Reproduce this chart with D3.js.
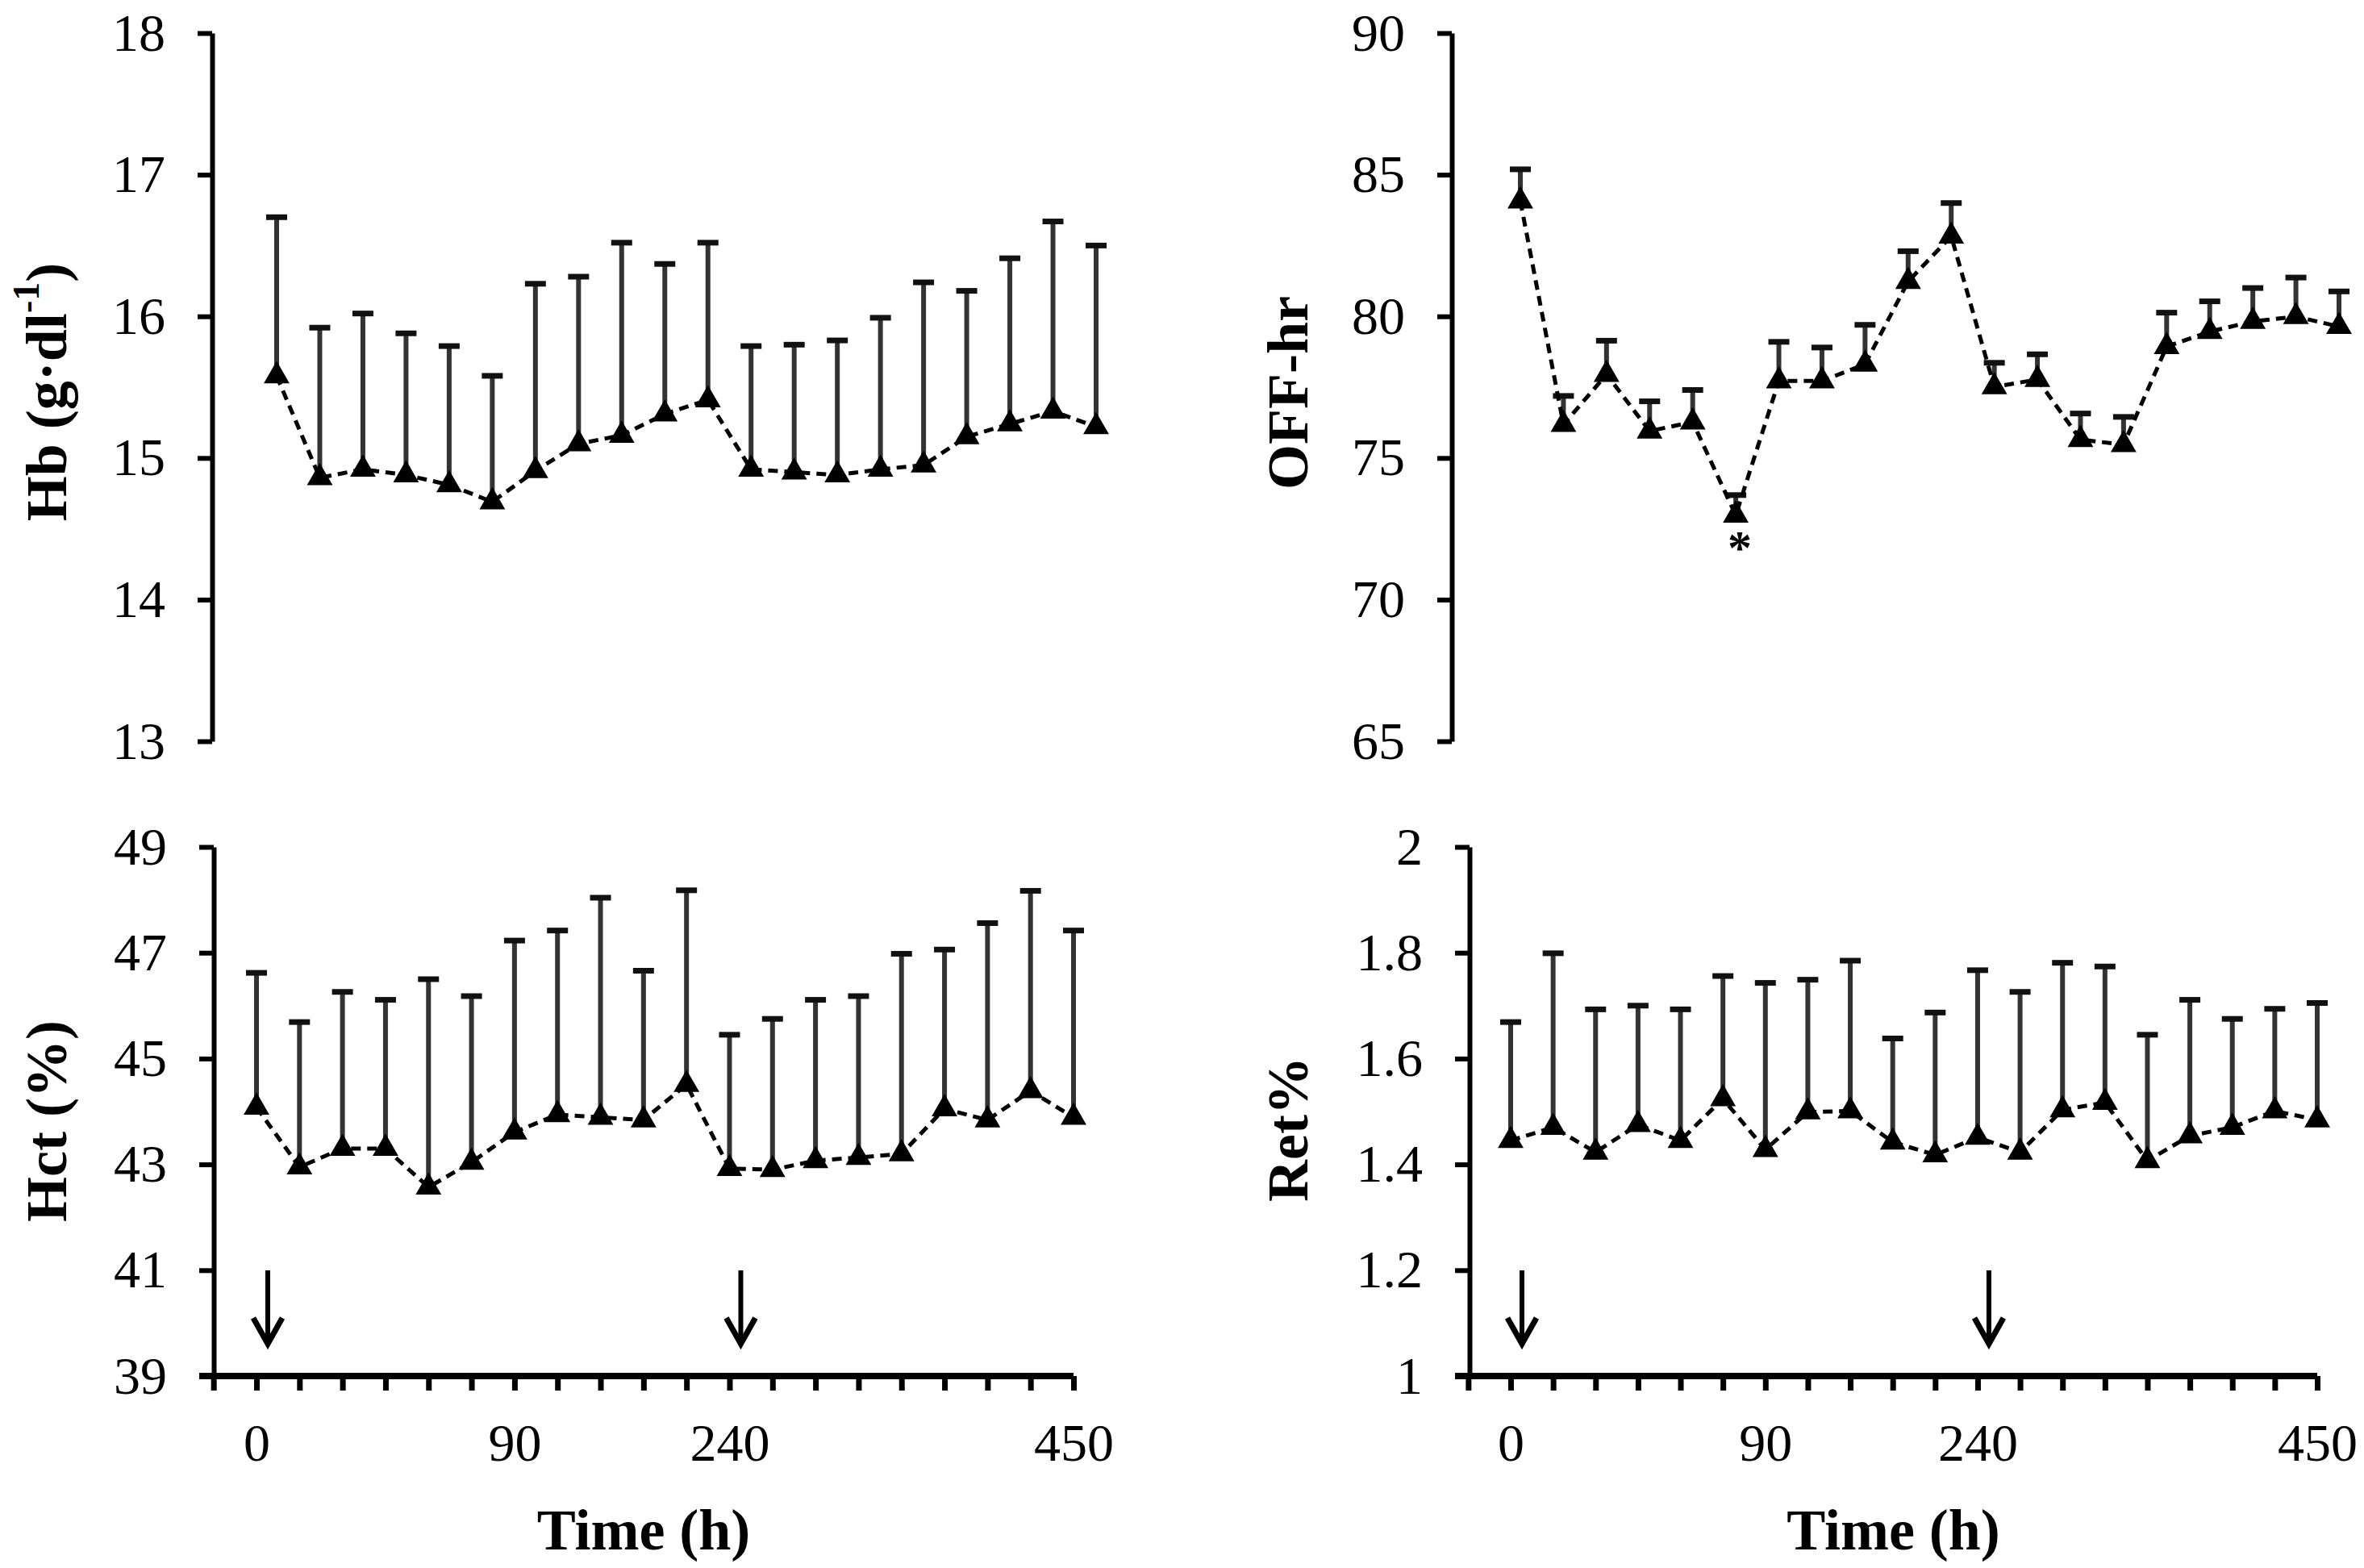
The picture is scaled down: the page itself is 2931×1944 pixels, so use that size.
<!DOCTYPE html>
<html>
<head>
    <meta charset="utf-8">
    <style>
        body { margin: 0; background: #fff; }
        svg { display: block; }
        .tick text { font-family: "Liberation Serif", "Times New Roman", serif; }
        .ttl { font-family: "Liberation Serif", "Times New Roman", serif; font-weight: bold; }
    </style>
    <script src="https://d3js.org/d3.v7.min.js"></script>
</head>
<body>
<script type="application/javascript">
  // x categories (20 sampling times), only some are labelled
  var tickLabels = ["0", "", "", "", "", "", "90", "", "", "", "", "240", "", "", "", "", "", "", "", "450"];
  // injection times (arrows), as category index
  var arrowAt = [0, 11];

  // Hb (g/dl)
  var hbMean = [15.58, 14.86, 14.92, 14.88, 14.81, 14.69, 14.91, 15.10, 15.16, 15.31,
                15.41, 14.92, 14.90, 14.88, 14.92, 14.95, 15.15, 15.24, 15.33, 15.22];
  var hbSD = [1.12, 1.06, 1.10, 1.00, 0.98, 0.89, 1.32, 1.18, 1.36, 1.06,
              1.11, 0.87, 0.90, 0.95, 1.07, 1.29, 1.03, 1.17, 1.34, 1.28];

  // OFF-hr
  var offMean = [84.07, 76.18, 77.95, 75.95, 76.27, 72.98, 77.72, 77.72, 78.31, 81.23,
                 82.83, 77.51, 77.77, 75.65, 75.47, 78.93, 79.46, 79.82, 79.99, 79.64];
  var offSD = [1.12, 1.01, 1.19, 1.05, 1.13, 0.71, 1.38, 1.18, 1.39, 1.07,
               1.17, 0.85, 0.89, 0.92, 0.98, 1.20, 1.07, 1.18, 1.38, 1.24];
  var offStar = [5]; // significant point

  // Hct (%)
  var hctMean = [44.08, 42.95, 43.30, 43.30, 42.57, 43.04, 43.61, 43.94, 43.89, 43.84,
                 44.51, 42.92, 42.90, 43.07, 43.13, 43.20, 44.05, 43.84, 44.39, 43.89];
  var hctSD = [2.54, 2.74, 2.96, 2.81, 3.93, 3.14, 3.62, 3.48, 4.15, 2.82,
               3.67, 2.53, 2.85, 3.04, 3.05, 3.78, 3.01, 3.72, 3.78, 3.53];

  // Ret%
  var retMean = [1.445, 1.470, 1.423, 1.475, 1.445, 1.524, 1.428, 1.499, 1.501, 1.442,
                 1.418, 1.451, 1.423, 1.503, 1.517, 1.407, 1.454, 1.470, 1.501, 1.484];
  var retSD = [0.224, 0.329, 0.270, 0.225, 0.248, 0.232, 0.315, 0.250, 0.284, 0.196,
               0.269, 0.316, 0.303, 0.278, 0.257, 0.238, 0.257, 0.205, 0.193, 0.221];

  var W = 2931, H = 1944;
  var svg = d3.select("body").append("svg")
              .attr("width", W)
              .attr("height", H);

  var panels = [
    {mean: hbMean, sd: hbSD, dom: [13, 18], step: 1, fmt: d3.format("d"),
     axisX: 263, x0: 343, x1: 1359, yTop: 41, yBot: 919, xAxis: false,
     title: ["Hb (g·dl", "-1", ")"], titleX: 58, titleY: 486},
    {mean: offMean, sd: offSD, dom: [65, 90], step: 5, fmt: d3.format("d"),
     axisX: 1800, x0: 1885, x1: 2900, yTop: 41, yBot: 919, xAxis: false, star: offStar,
     title: ["OFF-hr"], titleX: 1597, titleY: 487},
    {mean: hctMean, sd: hctSD, dom: [39, 49], step: 2, fmt: d3.format("d"),
     axisX: 265, x0: 318, x1: 1331, yTop: 1050, yBot: 1706, xAxis: true,
     title: ["Hct (%)"], titleX: 58, titleY: 1390},
    {mean: retMean, sd: retSD, dom: [1, 2], step: 0.2, fmt: function (d) { return +d.toFixed(1) + ""; },
     axisX: 1822, x0: 1873, x1: 2873, yTop: 1050, yBot: 1706, xAxis: true,
     title: ["Ret%"], titleX: 1597, titleY: 1400}
  ];

  var tri = d3.symbol().type(d3.symbolTriangle).size(440);

  panels.forEach(function (p) {
    var n = p.mean.length;
    var x = d3.scaleLinear().domain([0, n - 1]).range([p.x0, p.x1]);
    var y = d3.scaleLinear().domain(p.dom).range([p.yBot, p.yTop]);
    var g = svg.append("g");

    // y axis
    var yTicks = d3.range(p.dom[0], p.dom[1] + p.step / 2, p.step);
    var ya = g.append("g")
              .attr("transform", "translate(" + p.axisX + ",0)")
              .call(d3.axisLeft(y).tickValues(yTicks).tickFormat(p.fmt)
                      .tickSize(18).tickPadding(40).tickSizeOuter(0));
    ya.select(".domain").attr("stroke", "#000").attr("stroke-width", 6);
    ya.selectAll(".tick line").attr("stroke", "#000").attr("stroke-width", 6);
    ya.selectAll(".tick text").attr("font-size", 66).attr("fill", "#000");

    // x axis (bottom panels only)
    if (p.xAxis) {
      var gap = (p.x1 - p.x0) / (n - 1);
      var xa = d3.scaleLinear().domain([-1, n - 1]).range([p.x0 - gap, p.x1]);
      var xg = g.append("g")
                .attr("transform", "translate(0," + p.yBot + ")")
                .call(d3.axisBottom(xa).tickValues(d3.range(-1, n))
                        .tickFormat(function (d) { return d < 0 ? "" : tickLabels[d]; })
                        .tickSize(18).tickPadding(40).tickSizeOuter(0));
      xg.select(".domain").attr("stroke", "#000").attr("stroke-width", 8)
        .attr("d", "M" + (p.axisX - 18) + ",0H" + p.x1);
      xg.selectAll(".tick line").attr("stroke", "#000").attr("stroke-width", 7);
      xg.selectAll(".tick text").attr("font-size", 66).attr("fill", "#000");

      g.append("text").attr("class", "ttl")
       .attr("x", (p.axisX + p.x1) / 2).attr("y", 1897)
       .attr("text-anchor", "middle").attr("dominant-baseline", "central")
       .attr("font-size", 72).text("Time (h)");

      // arrows marking the doses
      arrowAt.forEach(function (i) {
        var ax = x(i) + 14, top = p.yBot - 131, tip = p.yBot - 40;
        g.append("path")
         .attr("d", "M" + ax + "," + top + "V" + (tip - 3))
         .attr("stroke", "#000").attr("stroke-width", 6).attr("fill", "none");
        g.append("path")
         .attr("d", "M" + (ax - 18) + "," + (tip - 32) + "L" + ax + "," + tip + "L" + (ax + 18) + "," + (tip - 32))
         .attr("stroke", "#000").attr("stroke-width", 7).attr("fill", "none");
      });
    }

    // y axis title
    var t = g.append("text").attr("class", "ttl")
             .attr("transform", "translate(" + p.titleX + "," + p.titleY + ") rotate(-90)")
             .attr("text-anchor", "middle").attr("dominant-baseline", "central")
             .attr("font-size", 72);
    t.append("tspan").text(p.title[0]);
    if (p.title.length > 1) {
      t.append("tspan").attr("font-size", 46).attr("dy", -26).text(p.title[1]);
      t.append("tspan").attr("dy", 26).text(p.title[2]);
    }

    // upper error bars
    var eb = g.append("g").attr("stroke", "#333");
    eb.selectAll(".bar").data(p.mean).enter().append("line")
      .attr("x1", function (d, i) { return x(i); })
      .attr("x2", function (d, i) { return x(i); })
      .attr("y1", function (d) { return y(d); })
      .attr("y2", function (d, i) { return y(d + p.sd[i]); })
      .attr("stroke-width", 6);
    eb.selectAll(".cap").data(p.mean).enter().append("line")
      .attr("x1", function (d, i) { return x(i) - 13; })
      .attr("x2", function (d, i) { return x(i) + 13; })
      .attr("y1", function (d, i) { return y(d + p.sd[i]); })
      .attr("y2", function (d, i) { return y(d + p.sd[i]); })
      .attr("stroke", "#111")
      .attr("stroke-width", 7);

    // dashed mean line
    g.append("path")
     .datum(p.mean)
     .attr("d", d3.line().x(function (d, i) { return x(i); }).y(function (d) { return y(d); }))
     .attr("fill", "none").attr("stroke", "#000").attr("stroke-width", 5)
     .attr("stroke-dasharray", "12,8");

    // triangle markers
    g.selectAll(".pt").data(p.mean).enter().append("path")
     .attr("d", tri)
     .attr("transform", function (d, i) { return "translate(" + x(i) + "," + y(d) + ")"; })
     .attr("fill", "#000");

    if (p.star) {
      p.star.forEach(function (i) {
        g.append("text").attr("class", "ttl")
         .attr("x", x(i) + 5).attr("y", y(p.mean[i]) + 60)
         .attr("text-anchor", "middle").attr("font-size", 60).attr("font-weight", "normal")
         .text("*");
      });
    }
  });
</script>
</body>
</html>
